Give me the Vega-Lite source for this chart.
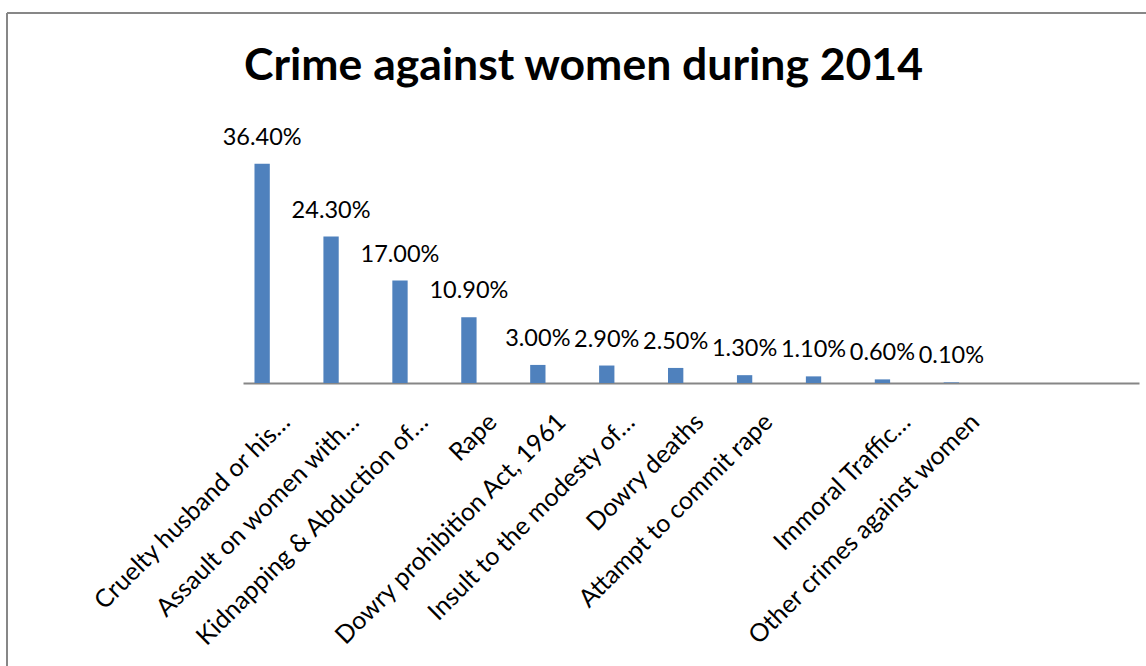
{
  "$schema": "https://vega.github.io/schema/vega-lite/v6.json",
  "autosize": {"type": "none"},
  "padding": {"left": 7, "top": 13, "right": 0, "bottom": 0},
  "width": 1139,
  "height": 653,
  "background": "white",
  "config": {
    "view": {"stroke": null},
    "font": "Lato",
    "title": {"font": "Lato", "fontWeight": "bold", "fontSize": 44.5, "color": "black", "anchor": "middle", "frame": "group", "offset": 0, "dx": 7, "dy": 81, "baseline": "alphabetic"}
  },
  "title": "Crime against women during 2014",
  "data": {
    "values": [
      {"crime": "Cruelty husband or his…", "pct": 0.364, "series": "s1"},
      {"crime": "Assault on women with…", "pct": 0.243, "series": "s1"},
      {"crime": "Kidnapping & Abduction of…", "pct": 0.17, "series": "s1"},
      {"crime": "Rape", "pct": 0.109, "series": "s1"},
      {"crime": "Dowry prohibition Act, 1961", "pct": 0.03, "series": "s1"},
      {"crime": "Insult to the modesty of…", "pct": 0.029, "series": "s1"},
      {"crime": "Dowry deaths", "pct": 0.025, "series": "s1"},
      {"crime": "Attampt to commit rape", "pct": 0.013, "series": "s1"},
      {"crime": " ", "pct": 0.011, "series": "s1"},
      {"crime": "Immoral Traffic…", "pct": 0.006, "series": "s1"},
      {"crime": "Other crimes against women", "pct": 0.001, "series": "s1"}
    ]
  },
  "layer": [
    {
      "layer": [
        {
          "mark": {"type": "bar", "color": "#4F81BD"},
          "encoding": {
            "x": {
              "field": "crime", "type": "nominal", "sort": null,
              "scale": {
                "domain": ["Cruelty husband or his…", "Assault on women with…", "Kidnapping & Abduction of…", "Rape", "Dowry prohibition Act, 1961", "Insult to the modesty of…", "Dowry deaths", "Attampt to commit rape", " ", "Immoral Traffic…", "Other crimes against women", "  ", "   "],
                "range": [236, 1132], "paddingInner": 0, "paddingOuter": 0
              },
              "axis": {
                "title": null, "orient": "bottom", "offset": -283,
                "domainColor": "#868686", "domainWidth": 2, "ticks": false, "grid": false,
                "labelAngle": -45, "labelAlign": "right", "labelBaseline": "top", "labelPadding": 26,
                "labelFont": "Lato", "labelFontSize": 25, "labelColor": "black",
                "labelOverlap": false, "labelLimit": 0, "labelBound": false
              }
            },
            "xOffset": {"field": "series", "type": "nominal", "scale": {"domain": ["s1", "s2", "s3"], "paddingInner": 0, "paddingOuter": 0.75}},
            "y": {"field": "pct", "type": "quantitative", "scale": {"domain": [-0.4697, 0.6141], "nice": false, "zero": false}, "axis": null},
            "y2": {"datum": 0}
          }
        },
        {
          "mark": {"type": "text", "font": "Lato", "fontSize": 23.5, "color": "black", "baseline": "alphabetic", "dy": -19},
          "encoding": {
            "x": {"field": "crime", "type": "nominal", "sort": null},
            "xOffset": {"field": "series", "type": "nominal"},
            "y": {"field": "pct", "type": "quantitative"},
            "text": {"field": "pct", "type": "quantitative", "format": ".2%"}
          }
        },
        {
          "mark": {"type": "rule", "color": "#878787", "strokeWidth": 2},
          "encoding": {"y": {"datum": 0.6141, "type": "quantitative"}}
        }
      ]
    },
    {
      "mark": {"type": "rule", "color": "#878787", "strokeWidth": 2},
      "encoding": {"x": {"datum": 0, "type": "quantitative", "scale": {"domain": [0, 1]}, "axis": null}}
    }
  ],
  "resolve": {"scale": {"x": "independent"}}
}
